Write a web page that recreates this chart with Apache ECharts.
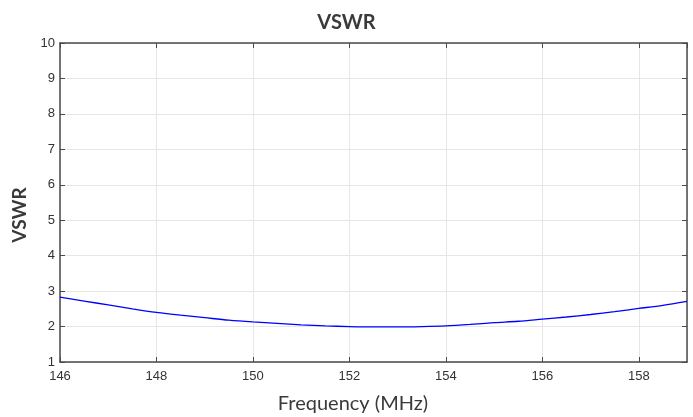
<!DOCTYPE html>
<html>
<head>
<meta charset="utf-8">
<script src="https://cdn.jsdelivr.net/npm/echarts@6/dist/echarts.min.js"></script>
<style>html,body{margin:0;padding:0;background:#fff}#c{width:693px;height:417px}</style>
</head>
<body>
<div id="c"></div>
<script>
const frequencies = [146,146.5,147,147.5,148,148.5,149,149.5,150,150.5,151,151.5,152,152.5,153,153.5,154,154.5,155,155.5,156,156.5,157,157.5,158,158.5,159];
const vswr = [2.83,2.72,2.61,2.50,2.40,2.32,2.25,2.18,2.13,2.09,2.05,2.02,2.00,1.99,1.99,2.00,2.02,2.06,2.11,2.15,2.21,2.27,2.34,2.42,2.51,2.60,2.71];
const xRange = {min:146, max:159, interval:2};
const yRange = {min:1, max:10, interval:1};

const chart = echarts.init(document.getElementById('c'));
const axisCol = '#4a4a4a';
const labelFont = {color:'#333', fontSize:13, fontFamily:'Liberation Sans, Arial, sans-serif'};
chart.setOption({
  animation:false,
  title:{text:'VSWR', left:'center', top:8, textStyle:{fontFamily:'Lato, sans-serif', fontWeight:'bold', fontSize:20, color:'#3a3a3a'}},
  grid:{left:60, right:6, top:43, bottom:55, outerBoundsMode:'none', containLabel:false},
  xAxis:[{
    type:'value', min:xRange.min, max:xRange.max, interval:xRange.interval,
    name:'Frequency (MHz)', nameLocation:'middle', nameGap:32,
    nameTextStyle:{fontFamily:'Lato, sans-serif', fontSize:20, color:'#3a3a3a', padding:[0,41,0,0]},
    axisLine:{show:true, lineStyle:{color:axisCol, width:1.5}},
    axisTick:{show:true, inside:true, length:5, lineStyle:{color:axisCol}},
    axisLabel:Object.assign({margin:8, showMaxLabel:false}, labelFont),
    splitLine:{show:true, lineStyle:{color:'#e6e6e6'}}
  },{
    type:'value', position:'top', min:xRange.min, max:xRange.max, interval:xRange.interval,
    axisLine:{show:true, lineStyle:{color:axisCol, width:1.5}},
    axisTick:{show:true, inside:true, length:5, lineStyle:{color:axisCol}},
    axisLabel:{show:false}, splitLine:{show:false}
  }],
  yAxis:[{
    type:'value', min:yRange.min, max:yRange.max, interval:yRange.interval,
    name:'VSWR', nameLocation:'middle', nameGap:27, nameRotate:90,
    nameTextStyle:{fontFamily:'Lato, sans-serif', fontWeight:'bold', fontSize:19, color:'#3a3a3a', padding:[0,25,0,0]},
    axisLine:{show:true, lineStyle:{color:axisCol, width:1.5}},
    axisTick:{show:true, inside:true, length:5, lineStyle:{color:axisCol}},
    axisLabel:Object.assign({margin:5}, labelFont),
    splitLine:{show:true, lineStyle:{color:'#e6e6e6'}}
  },{
    type:'value', position:'right', min:yRange.min, max:yRange.max, interval:yRange.interval,
    axisLine:{show:true, lineStyle:{color:axisCol, width:1.5}},
    axisTick:{show:true, inside:true, length:5, lineStyle:{color:axisCol}},
    axisLabel:{show:false}, splitLine:{show:false}
  }],
  series:[{
    type:'line', xAxisIndex:0, yAxisIndex:0,
    data:frequencies.map((f,i)=>[f, vswr[i]]),
    showSymbol:false, smooth:0.3,
    lineStyle:{color:'#0000ff', width:1.3}
  }]
});
</script>
</body>
</html>
